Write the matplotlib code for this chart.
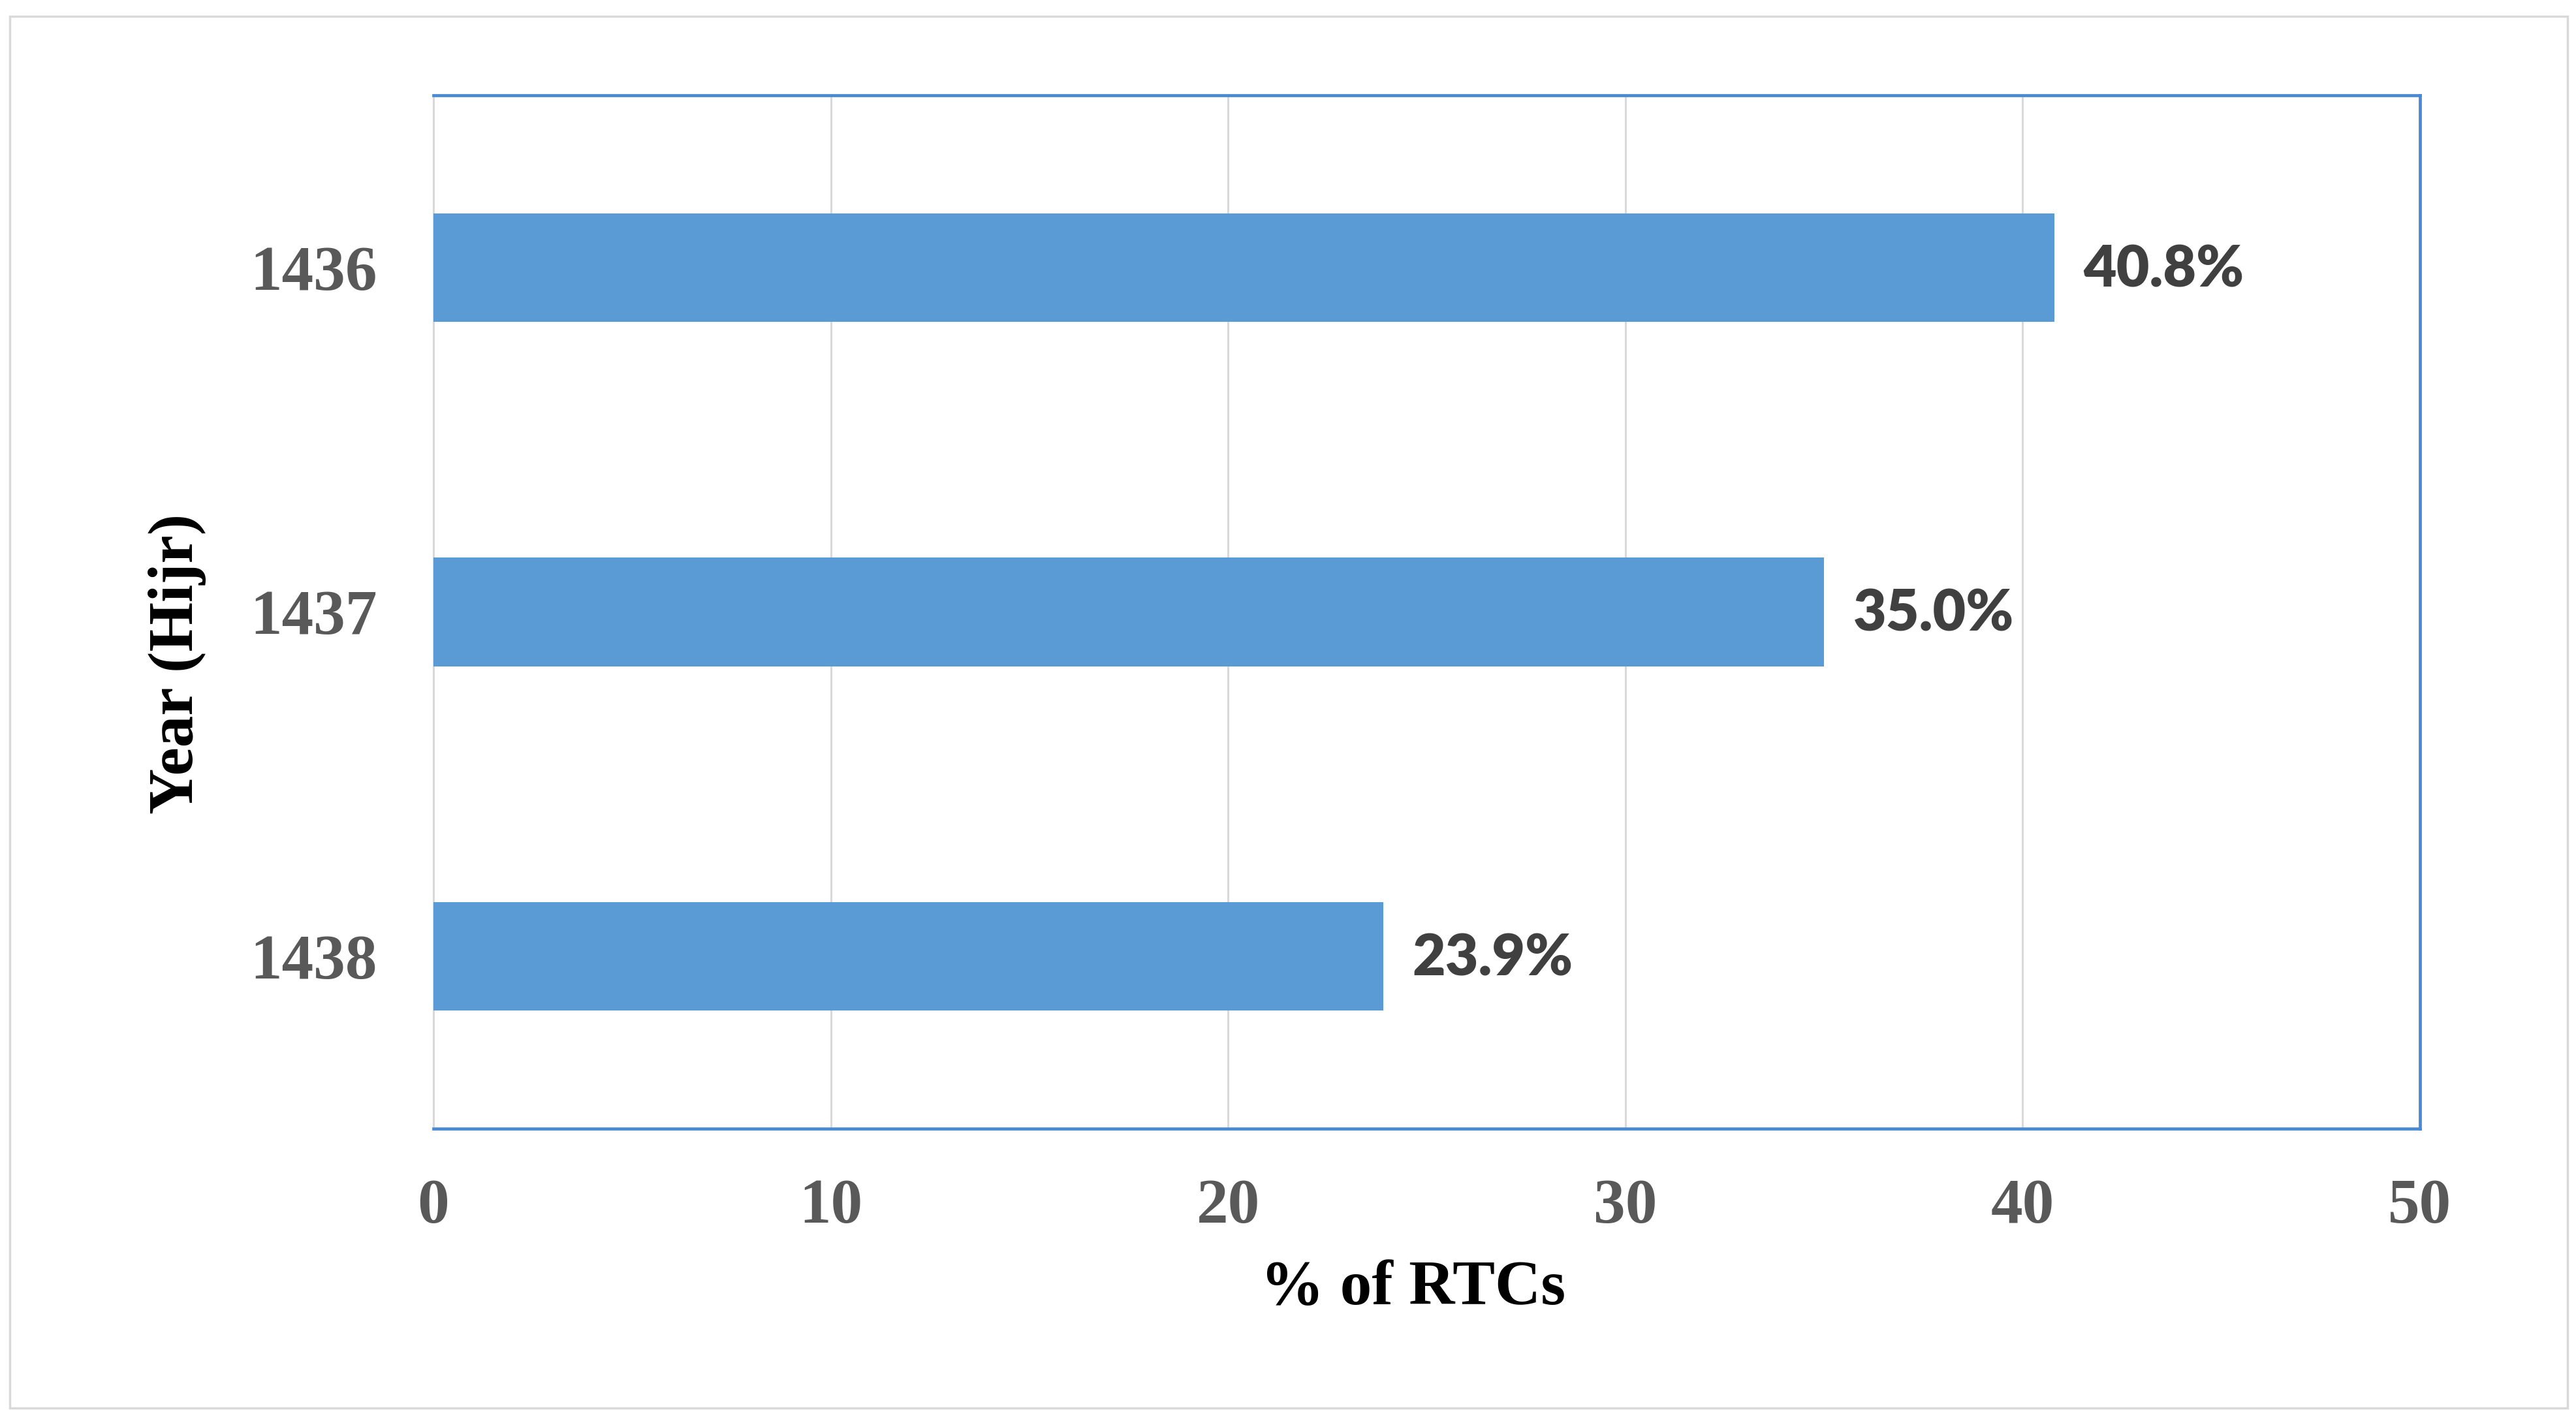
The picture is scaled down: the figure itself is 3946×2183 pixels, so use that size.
import matplotlib.pyplot as plt
from matplotlib.patches import Rectangle

# data
years = ["1436", "1437", "1438"]
pct_rtc = [40.8, 35.0, 23.9]
x_ticks = [0, 10, 20, 30, 40, 50]

BAR = "#5B9BD5"
SPINE_BLUE = "#4A8AD2"
GRID = "#D9D9D9"
TICK_GRAY = "#595959"
LABEL_GRAY = "#404040"
SERIF = ["Liberation Serif", "DejaVu Serif"]

fig = plt.figure(figsize=(39.46, 21.83), dpi=100)
fig.patch.set_facecolor("white")

# light grey chart-area frame around everything
fig.patches.append(Rectangle((15 / 3946, 1 - 2157 / 2183), 3918 / 3946, 2132 / 2183,
                             transform=fig.transFigure, fill=False,
                             edgecolor=GRID, linewidth=2.5))

ax = fig.add_axes([0.1683, 0.208, 0.7711, 0.7251])

pos = list(range(len(years)))
bars = ax.barh(pos, pct_rtc, height=0.315, color=BAR, zorder=3)

ax.set_xlim(0, 50)
ax.set_ylim(len(years) - 0.5, -0.5)
ax.set_xticks(x_ticks)
ax.set_yticks(pos)
ax.set_yticklabels(years)

ax.grid(axis="x", color=GRID, linewidth=2.2, zorder=0)
ax.grid(axis="y", visible=False)
ax.tick_params(length=0)
ax.tick_params(axis="y", pad=62)
ax.tick_params(axis="x", pad=55)
for lab in ax.get_xticklabels() + ax.get_yticklabels():
    lab.set_family(SERIF)
    lab.set_fontsize(70)
    lab.set_fontweight("bold")
    lab.set_color(TICK_GRAY)

for side in ("top", "right", "bottom"):
    ax.spines[side].set_color(SPINE_BLUE)
    ax.spines[side].set_linewidth(3.4)
ax.spines["left"].set_color(GRID)
ax.spines["left"].set_linewidth(2.2)
ax.spines["bottom"].set_zorder(4)

for rect, v in zip(bars, pct_rtc):
    ax.annotate(f"{v:.1f}%", (v, rect.get_y() + rect.get_height() / 2),
                xytext=(32, -3), textcoords="offset points",
                ha="left", va="center", fontsize=63, fontweight="heavy",
                family=["Lato", "DejaVu Sans"], color=LABEL_GRAY)

ax.set_xlabel("% of RTCs", family=SERIF, fontsize=70, fontweight="bold", color="black")
ax.set_ylabel("Year (Hijr)", family=SERIF, fontsize=70, fontweight="bold", color="black")
ax.xaxis.set_label_coords(0.493, -0.155)
ax.xaxis.label.set_va("center")
ax.yaxis.set_label_coords(-0.129, 0.45)
ax.yaxis.label.set_va("center")

fig.savefig("out.png", dpi=100, facecolor="white")
